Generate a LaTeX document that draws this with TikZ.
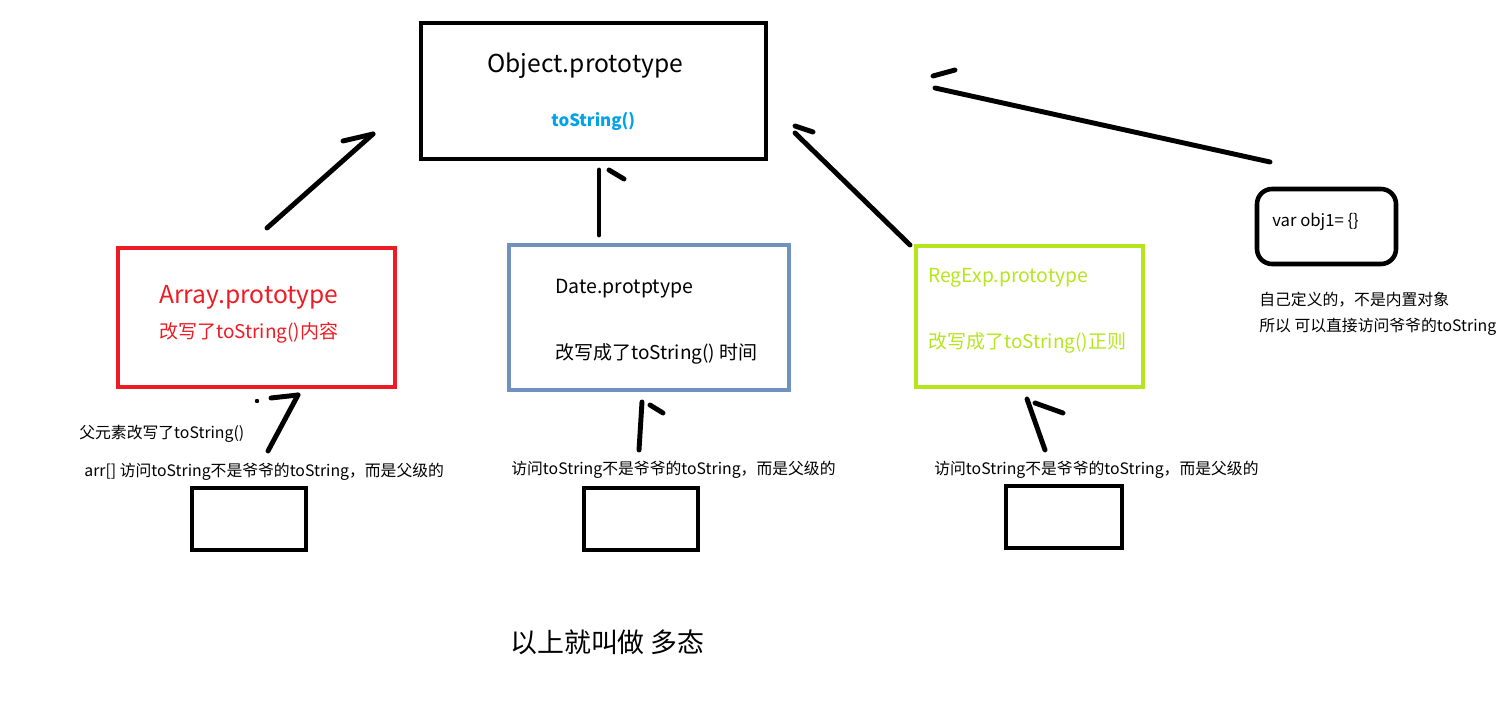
\documentclass[tikz,border=0pt]{standalone}
\usepackage{fontspec}
\setmainfont{Noto Sans CJK SC}
\usetikzlibrary{positioning}

\definecolor{arrred}{RGB}{237,28,36}
\definecolor{dateblue}{RGB}{112,146,190}
\definecolor{reglime}{RGB}{181,230,29}
\definecolor{skyblue}{RGB}{0,162,232}

\begin{document}
\begin{tikzpicture}[x=0.02cm, y=-0.02cm,
    box/.style={shape=rectangle, draw=black, line width=2.6pt, inner sep=0pt},
    leaf/.style={box, minimum width=2.28cm, minimum height=1.24cm},
    txt/.style={anchor=west, inner sep=0pt},
    note/.style={txt, font=\fontsize{9.0}{10}\selectfont},
    stroke/.style={line width=2.8pt, line cap=round}]

   \useasboundingbox (0,0) rectangle (1500,705);

   % boxes
   \node[box, minimum width=6.9cm, minimum height=2.72cm] (obj) at (593.5,91) {};
   \node[box, draw=arrred, minimum width=5.54cm, minimum height=2.78cm] (arr) at (256.5,317.5) {};
   \node[box, draw=dateblue, minimum width=5.6cm, minimum height=2.9cm] (date) at (649,317.5) {};
   \node[box, draw=reglime, minimum width=4.54cm, minimum height=2.82cm] (reg) at (1029.5,316.5) {};
   \node[box, rounded corners=0.3cm, minimum width=2.78cm, minimum height=1.5cm] (own) at (1326.5,226.5) {};
   \node[leaf] (i1) at (249,519) {};
   \node[leaf] (i2) at (641,519) {};
   \node[leaf, minimum width=2.32cm] (i3) at (1064,517) {};

   % texts in the boxes
   \node[txt, font=\fontsize{14.0}{15}\selectfont] (objname) at (487,66) {Object.prototype};
   \node[txt, font=\fontsize{9.6}{11}\selectfont\bfseries, text=skyblue] (objfn) at (551,121) {toString()};
   \node[txt, font=\fontsize{14.0}{15}\selectfont, text=arrred] (arrname) at (159,297) {Array.prototype};
   \node[txt, font=\fontsize{10.8}{12}\selectfont, text=arrred] (arrfn) at (159,333) {改写了toString()内容};
   \node[txt, font=\fontsize{11.1}{12}\selectfont] (datename) at (555,289) {Date.protptype};
   \node[txt, font=\fontsize{10.8}{12}\selectfont] (datefn) at (555,354) {改写成了toString() 时间};
   \node[txt, font=\fontsize{11.0}{12}\selectfont, text=reglime] (regname) at (928,278) {RegExp.prototype};
   \node[txt, font=\fontsize{10.8}{12}\selectfont, text=reglime] (regfn) at (928,343) {改写成了toString()正则};
   \node[txt, font=\fontsize{9.5}{11}\selectfont] (ownname) at (1272,222) {var obj1= \{\}};

   % notes
   \node[note] (own1) at (1259,300) {自己定义的，不是内置对象};
   \node[note] (own2) at (1259,327) {所以 可以直接访问爷爷的toString};
   \node[note] (n0) at (79,434) {父元素改写了toString()};
   \node[note] (n1) at (84,472) {arr[] 访问toString不是爷爷的toString，而是父级的};
   \node[note] (n2) at (511,470) {访问toString不是爷爷的toString，而是父级的};
   \node[note] (n3) at (934,470) {访问toString不是爷爷的toString，而是父级的};
   \node[txt, font=\fontsize{15.3}{17}\selectfont] (sum) at (510,642) {以上就叫做 多态};

   % hand drawn arrows
   \coordinate (a0) at (267,228); \coordinate (a1) at (373,134); \coordinate (a2) at (343,141);
   \coordinate (b0) at (599,235); \coordinate (b1) at (599,170); \coordinate (b2) at (609,170); \coordinate (b3) at (624,179);
   \coordinate (c0) at (910,245); \coordinate (c1) at (795,133); \coordinate (c2) at (795,126); \coordinate (c3) at (813,132);
   \coordinate (d0) at (1270,162); \coordinate (d1) at (935,88); \coordinate (d2) at (933,76); \coordinate (d3) at (955,70);
   \coordinate (e0) at (268,451); \coordinate (e1) at (298,395); \coordinate (e2) at (271,398);
   \coordinate (f0) at (639,450); \coordinate (f1) at (642,402); \coordinate (f2) at (650,405); \coordinate (f3) at (663,413);
   \coordinate (g0) at (1045,450); \coordinate (g1) at (1027,399); \coordinate (g2) at (1035,403); \coordinate (g3) at (1063,413);

   \path[stroke] (a0) edge (a1) (a2) edge (a1);
   \path[stroke] (b0) edge (b1) (b2) edge (b3);
   \path[stroke] (c0) edge (c1) (c2) edge (c3);
   \path[stroke] (d0) edge (d1) (d2) edge (d3);
   \path[stroke] (e0) edge (e1) (e2) edge (e1);
   \path[stroke] (f0) edge (f1) (f2) edge (f3);
   \path[stroke] (g0) edge (g1) (g2) edge (g3);
   \fill (257,401) circle (2.2);

\end{tikzpicture}
\end{document}
